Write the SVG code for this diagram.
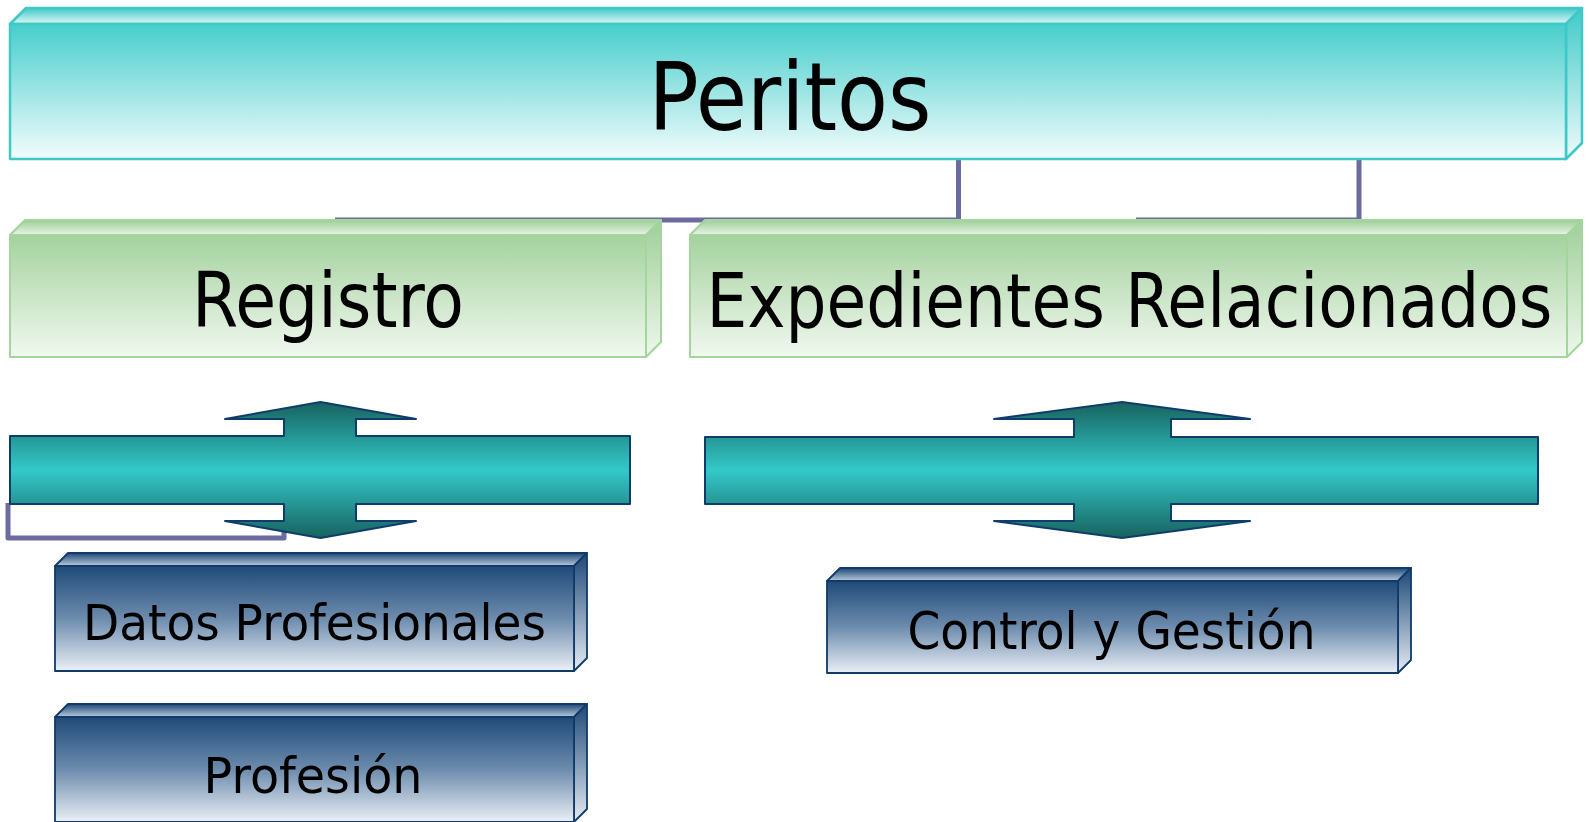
<svg xmlns="http://www.w3.org/2000/svg" width="1589" height="822" viewBox="0 0 1589 822">
<defs>
<linearGradient id="tealFront" x1="0" y1="0" x2="0" y2="1"><stop offset="0" stop-color="#46cecc"/><stop offset="1" stop-color="#f3fcfc"/></linearGradient>
<linearGradient id="tealTop" x1="0" y1="0" x2="0" y2="1"><stop offset="0" stop-color="#3fc9c7"/><stop offset="1" stop-color="#e2f7f7"/></linearGradient>
<linearGradient id="tealSide" x1="0" y1="0" x2="0" y2="1"><stop offset="0" stop-color="#3fcac8"/><stop offset="1" stop-color="#effbfb"/></linearGradient>
<linearGradient id="greenFront" x1="0" y1="0" x2="0" y2="1"><stop offset="0" stop-color="#a4d29e"/><stop offset="1" stop-color="#f1f8f0"/></linearGradient>
<linearGradient id="greenTop" x1="0" y1="0" x2="0" y2="1"><stop offset="0" stop-color="#9ccd96"/><stop offset="1" stop-color="#e9f4e7"/></linearGradient>
<linearGradient id="greenSide" x1="0" y1="0" x2="0" y2="1"><stop offset="0" stop-color="#9fcf99"/><stop offset="1" stop-color="#eef7ed"/></linearGradient>
<linearGradient id="navyFront" x1="0" y1="0" x2="0" y2="1"><stop offset="0" stop-color="#1f4a79"/><stop offset="0.5" stop-color="#6d8cad"/><stop offset="1" stop-color="#eaeff5"/></linearGradient>
<linearGradient id="navyTop" x1="0" y1="0" x2="0" y2="1"><stop offset="0" stop-color="#1d4877"/><stop offset="1" stop-color="#b9cadc"/></linearGradient>
<linearGradient id="navySide" x1="0" y1="0" x2="0" y2="1"><stop offset="0" stop-color="#1d4877"/><stop offset="1" stop-color="#e6ecf3"/></linearGradient>
<linearGradient id="arrowGrad" x1="0" y1="0" x2="0" y2="1"><stop offset="0" stop-color="#17625e"/><stop offset="0.5" stop-color="#33c9c9"/><stop offset="1" stop-color="#17625e"/></linearGradient>
<style>
.teal{stroke:#3ec8c6;stroke-width:2.5;stroke-linejoin:round}
.green{stroke:#a3d59d;stroke-width:2;stroke-linejoin:round}
.navy{stroke:#0f3a69;stroke-width:1.8;stroke-linejoin:round}
.conn{fill:none;stroke:#6b6b9f;stroke-width:5}
.arrow{fill:url(#arrowGrad);stroke:#0f3d6b;stroke-width:2;stroke-linejoin:round}
text{font-family:"DejaVu Sans","Liberation Sans",sans-serif;fill:#000;text-anchor:middle}
</style>
</defs>
<g id="connectors">
<path class="conn" d="M958.5,159 V220 H335"/>
<path class="conn" d="M1359,159 V220 H1136"/>
<path class="conn" stroke-width="4.5" stroke-linejoin="round" d="M8,503 V538 H284 V520"/>
</g>
<g id="peritos">
<polygon class="teal" fill="url(#tealTop)" points="10,24 26,8 1582,8 1566,24"/>
<polygon class="teal" fill="url(#tealSide)" points="1566,24 1582,8 1582,143 1566,159"/>
<rect class="teal" fill="url(#tealFront)" x="10" y="24" width="1556" height="135"/>
<text x="790" y="130" font-size="94" textLength="283" lengthAdjust="spacingAndGlyphs">Peritos</text>
</g>
<g id="registro">
<polygon class="green" fill="url(#greenTop)" points="10,235 25,220 661,220 646,235"/>
<polygon class="green" fill="url(#greenSide)" points="646,235 661,220 661,342 646,357"/>
<rect class="green" fill="url(#greenFront)" x="10" y="235" width="636" height="122"/>
<text x="328" y="326.5" font-size="76" textLength="272" lengthAdjust="spacingAndGlyphs">Registro</text>
</g>
<g id="expedientes">
<polygon class="green" fill="url(#greenTop)" points="690,235 705,220 1582,220 1567,235"/>
<polygon class="green" fill="url(#greenSide)" points="1567,235 1582,220 1582,342 1567,357"/>
<rect class="green" fill="url(#greenFront)" x="690" y="235" width="877" height="122"/>
<text x="1129.5" y="326.5" font-size="75" textLength="846" lengthAdjust="spacingAndGlyphs">Expedientes Relacionados</text>
</g>
<g id="arrow-registro">
<path class="arrow" d="M10,436 H284 V419 H225 L320.5,402 L416,419 H356 V436 H630 V504 H356 V521 H416 L320.5,538 L225,521 H284 V504 H10 Z"/>
</g>
<g id="arrow-expedientes">
<path class="arrow" d="M705,437 H1074 V419 H994 L1122,402 L1250,419 H1171 V437 H1538 V504 H1171 V521 H1250 L1122,538 L994,521 H1074 V504 H705 Z"/>
</g>
<g id="datos-profesionales">
<polygon class="navy" fill="url(#navyTop)" points="55,566 68,553 587,553 574,566"/>
<polygon class="navy" fill="url(#navySide)" points="574,566 587,553 587,658 574,671"/>
<rect class="navy" fill="url(#navyFront)" x="55" y="566" width="519" height="105"/>
<text x="314.5" y="640" font-size="50" textLength="463" lengthAdjust="spacingAndGlyphs">Datos Profesionales</text>
</g>
<g id="profesion">
<polygon class="navy" fill="url(#navyTop)" points="55,717 68,704 587,704 574,717"/>
<polygon class="navy" fill="url(#navySide)" points="574,717 587,704 587,809 574,822"/>
<rect class="navy" fill="url(#navyFront)" x="55" y="717" width="519" height="105"/>
<text x="313" y="793" font-size="50" textLength="219" lengthAdjust="spacingAndGlyphs">Profesión</text>
</g>
<g id="control-gestion">
<polygon class="navy" fill="url(#navyTop)" points="827,581 840,568 1411,568 1398,581"/>
<polygon class="navy" fill="url(#navySide)" points="1398,581 1411,568 1411,660 1398,673"/>
<rect class="navy" fill="url(#navyFront)" x="827" y="581" width="571" height="92"/>
<text x="1111.5" y="649" font-size="52" textLength="408" lengthAdjust="spacingAndGlyphs">Control y Gestión</text>
</g>
</svg>
